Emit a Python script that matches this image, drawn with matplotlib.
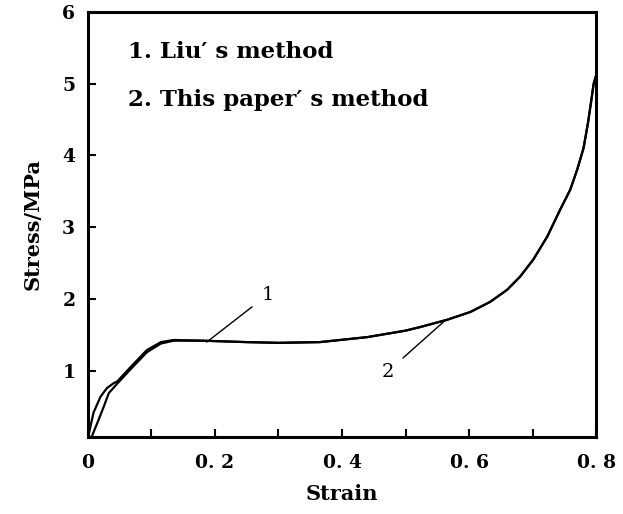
import matplotlib
matplotlib.use('Agg')
import matplotlib.pyplot as plt
from matplotlib import ticker

# curve 1 - Liu's method
strain_liu = [0.0, 0.002, 0.009, 0.020, 0.030, 0.041, 0.046, 0.068, 0.093, 0.115, 0.135,
              0.18, 0.25, 0.30, 0.365, 0.44, 0.50, 0.523, 0.565, 0.602, 0.633, 0.660, 0.680,
              0.701, 0.723, 0.743, 0.759, 0.770, 0.780, 0.787, 0.792, 0.796, 0.80]
stress_liu = [0.08, 0.14, 0.42, 0.64, 0.76, 0.83, 0.85, 1.06, 1.29, 1.40, 1.43,
              1.42, 1.40, 1.39, 1.40, 1.47, 1.56, 1.61, 1.71, 1.82, 1.96, 2.13, 2.31,
              2.55, 2.87, 3.24, 3.52, 3.80, 4.10, 4.45, 4.75, 5.00, 5.12]

# curve 2 - this paper's method
strain_new = [0.0, 0.006, 0.017, 0.025, 0.033, 0.044, 0.068, 0.093, 0.115, 0.135,
              0.18, 0.25, 0.30, 0.365, 0.44, 0.50, 0.523, 0.565, 0.602, 0.633, 0.660, 0.680,
              0.701, 0.723, 0.743, 0.759, 0.770, 0.780, 0.787, 0.792, 0.796, 0.80]
stress_new = [0.08, 0.08, 0.32, 0.50, 0.69, 0.80, 1.03, 1.26, 1.38, 1.42,
              1.42, 1.40, 1.39, 1.40, 1.47, 1.56, 1.61, 1.71, 1.82, 1.96, 2.13, 2.31,
              2.55, 2.87, 3.24, 3.52, 3.80, 4.10, 4.45, 4.75, 5.00, 5.12]

legend_lines = ["1. Liu\u2032 s method", "2. This paper\u2032 s method"]

plt.rcParams['font.family'] = 'DejaVu Serif'

fig = plt.figure(figsize=(6.23, 5.14), dpi=100)
ax = fig.add_axes([0.141, 0.150, 0.816, 0.827])

ax.plot(strain_liu, stress_liu, color='black', lw=1.6)
ax.plot(strain_new, stress_new, color='black', lw=1.6)

ax.set_xlim(0, 0.8)
ax.set_ylim(0.08, 6.0)

ax.xaxis.set_major_locator(ticker.MultipleLocator(0.1))
ax.xaxis.set_major_formatter(ticker.FuncFormatter(
    lambda v, pos: '0' if abs(v) < 1e-9 else ('0. %d' % round(v * 10) if round(v * 10) % 2 == 0 else '')))
ax.set_yticks([1, 2, 3, 4, 5, 6])
ax.tick_params(direction='in', length=6, width=1.5, labelsize=13.5)
ax.tick_params(axis='x', pad=12)
ax.tick_params(axis='y', pad=9)
for lab in ax.get_xticklabels() + ax.get_yticklabels():
    lab.set_fontweight('bold')
for s in ax.spines.values():
    s.set_linewidth(2.2)

ax.set_xlabel('Strain', fontsize=15, fontweight='bold', labelpad=9)
ax.set_ylabel('Stress/MPa', fontsize=15, fontweight='bold', labelpad=14)

ax.text(0.079, 0.906, legend_lines[0], transform=ax.transAxes, fontsize=16.5,
        fontweight='bold', va='center')
ax.text(0.079, 0.793, legend_lines[1], transform=ax.transAxes, fontsize=16.5,
        fontweight='bold', va='center')

# curve labels with leader lines
ax.annotate('1', xy=(0.187, 1.40), xytext=(0.283, 2.06), fontsize=14, ha='center', va='center',
            arrowprops=dict(arrowstyle='-', color='black', lw=1, shrinkB=0, shrinkA=6))
ax.annotate('2', xy=(0.562, 1.70), xytext=(0.472, 0.99), fontsize=14, ha='center', va='center',
            arrowprops=dict(arrowstyle='-', color='black', lw=1, shrinkB=0, shrinkA=6))

plt.savefig('out.png', dpi=100)
